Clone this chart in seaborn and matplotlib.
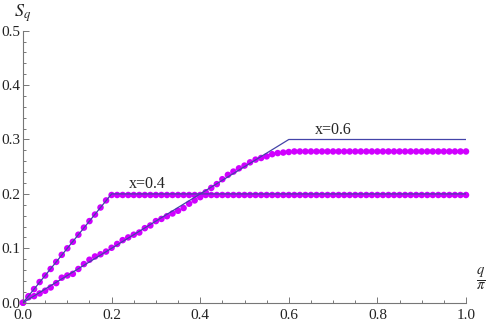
import numpy as np
import pandas as pd
import matplotlib
matplotlib.use('Agg')
import matplotlib.pyplot as plt
from matplotlib.ticker import MultipleLocator, FormatStrFormatter
import seaborn as sns

# q/pi grid of the data points (81 points)
q_points = np.linspace(0, 1, 81)

# x=0.4 numerical points
s_x04 = [0.000, 0.012, 0.025, 0.038, 0.050, 0.062, 0.075, 0.088, 0.100, 0.112,
         0.125, 0.138, 0.150, 0.162, 0.175, 0.188] + [0.198] * 65

# x=0.6 numerical points
s_x06 = [0.000, 0.010, 0.012, 0.017, 0.022, 0.028, 0.036, 0.046, 0.050, 0.053,
         0.062, 0.071, 0.079, 0.085, 0.089, 0.094, 0.101, 0.108, 0.115, 0.120,
         0.125, 0.129, 0.137, 0.142, 0.150, 0.154, 0.159, 0.164, 0.169, 0.174,
         0.182, 0.188, 0.194, 0.203, 0.211, 0.218, 0.227, 0.235, 0.241, 0.247,
         0.252, 0.258, 0.263, 0.266, 0.269, 0.273, 0.275, 0.276, 0.277, 0.278] + [0.278] * 31

# analytic lines
q_line_04 = [0.0, 0.2, 1.0]
s_line_04 = [0.0, 0.2, 0.2]
q_line_06 = [0.0, 0.6, 1.0]
s_line_06 = [0.0, 0.3, 0.3]

sns.set_style('white')
plt.rcParams['font.family'] = ['Liberation Serif', 'DejaVu Serif']
plt.rcParams['mathtext.fontset'] = 'stix'

dots = pd.DataFrame({'q': np.concatenate([q_points, q_points]),
                     'S': s_x04 + s_x06,
                     'x': ['0.4'] * 81 + ['0.6'] * 81})
lines = pd.DataFrame({'q': q_line_04 + q_line_06,
                      'S': s_line_04 + s_line_06,
                      'x': ['0.4'] * 3 + ['0.6'] * 3})

fig = plt.figure(figsize=(4.91, 3.25), dpi=100)
ax = fig.add_axes([23 / 491, 1 - 302.7 / 325, 443 / 491, 272 / 325])

sns.scatterplot(data=dots, x='q', y='S', hue='x', palette=['#d000ff', '#d000ff'],
                s=22, linewidth=0, legend=False, ax=ax, clip_on=False, zorder=2)
sns.lineplot(data=lines, x='q', y='S', hue='x', palette=['#4444a8', '#4444a8'],
             linewidth=0.9, legend=False, ax=ax, estimator=None, sort=False, zorder=3)

ax.set_xlim(0, 1)
ax.set_ylim(0, 0.5)
ax.set_xlabel('')
ax.set_ylabel('')

for side in ['top', 'right']:
    ax.spines[side].set_visible(False)
for side in ['left', 'bottom']:
    ax.spines[side].set_color('#777777')
    ax.spines[side].set_linewidth(0.8)

ax.xaxis.set_major_locator(MultipleLocator(0.2))
ax.xaxis.set_minor_locator(MultipleLocator(0.05))
ax.yaxis.set_major_locator(MultipleLocator(0.1))
ax.yaxis.set_minor_locator(MultipleLocator(0.02))
ax.xaxis.set_major_formatter(FormatStrFormatter('%.1f'))
ax.yaxis.set_major_formatter(FormatStrFormatter('%.1f'))
ax.tick_params(which='both', direction='in', color='#777777', width=0.7,
               labelsize=11, labelcolor='#222222')
ax.tick_params(which='major', length=4.5)
ax.tick_params(which='minor', length=2.5)
ax.tick_params(axis='y', which='both', left=True)
ax.tick_params(axis='x', which='both', bottom=True)
ax.tick_params(axis='y', which='major', pad=2)
ax.tick_params(axis='x', which='major', pad=4.5)

ax.text(0.281, 0.218, 'x=0.4', fontsize=11.5, ha='center', va='center')
ax.text(0.701, 0.317, 'x=0.6', fontsize=11.5, ha='center', va='center')

fig.text(23 / 491, 1 - 13 / 325, r'$S_q$', fontsize=13, ha='center', va='center')
fig.text(481 / 491, 1 - 279 / 325, r'$\frac{q}{\pi}$', fontsize=15, ha='center', va='center')

fig.savefig('out.png', dpi=100)
